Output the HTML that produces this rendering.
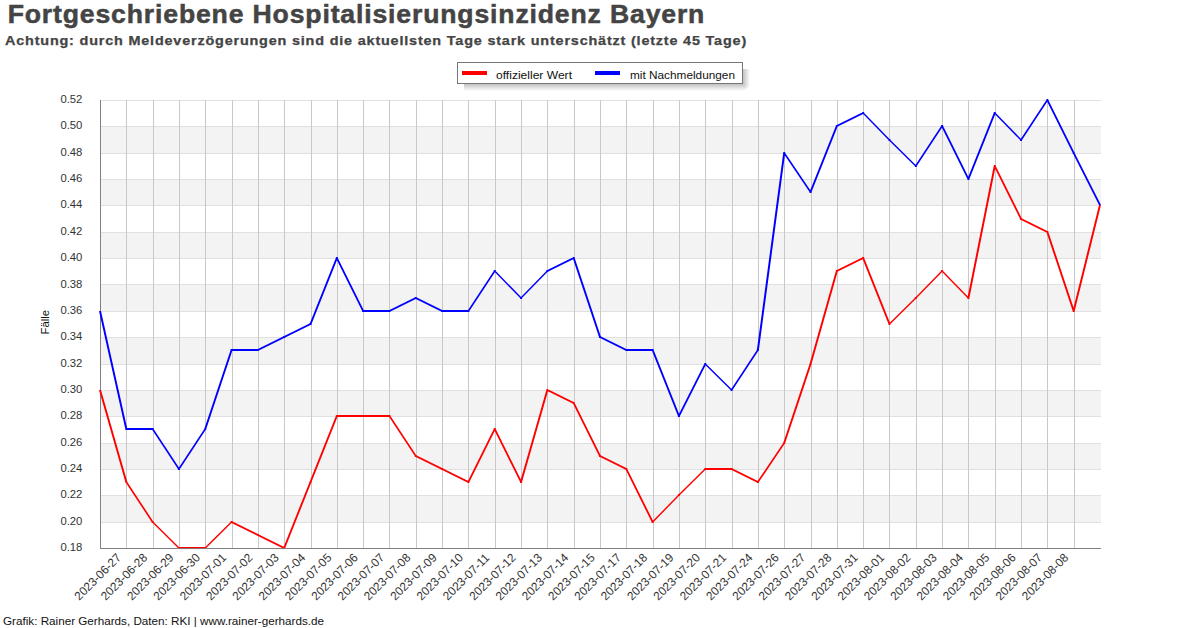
<!DOCTYPE html>
<html><head><meta charset="utf-8"><style>
html,body{margin:0;padding:0;background:#fff;width:1200px;height:628px;overflow:hidden}
svg{display:block;font-family:"Liberation Sans", sans-serif}
</style></head><body>
<svg width="1200" height="628" viewBox="0 0 1200 628">
<rect width="1200" height="628" fill="#fff"/>
<rect x="101" y="126" width="1000" height="27" fill="#f3f3f3"/>
<rect x="101" y="179" width="1000" height="26" fill="#f3f3f3"/>
<rect x="101" y="232" width="1000" height="26" fill="#f3f3f3"/>
<rect x="101" y="284" width="1000" height="27" fill="#f3f3f3"/>
<rect x="101" y="337" width="1000" height="27" fill="#f3f3f3"/>
<rect x="101" y="390" width="1000" height="26" fill="#f3f3f3"/>
<rect x="101" y="443" width="1000" height="26" fill="#f3f3f3"/>
<rect x="101" y="495" width="1000" height="27" fill="#f3f3f3"/>
<line x1="101" y1="100.5" x2="1101" y2="100.5" stroke="#e0e0e0" stroke-width="1"/>
<line x1="101" y1="126.5" x2="1101" y2="126.5" stroke="#e0e0e0" stroke-width="1"/>
<line x1="101" y1="153.5" x2="1101" y2="153.5" stroke="#e0e0e0" stroke-width="1"/>
<line x1="101" y1="179.5" x2="1101" y2="179.5" stroke="#e0e0e0" stroke-width="1"/>
<line x1="101" y1="205.5" x2="1101" y2="205.5" stroke="#e0e0e0" stroke-width="1"/>
<line x1="101" y1="232.5" x2="1101" y2="232.5" stroke="#e0e0e0" stroke-width="1"/>
<line x1="101" y1="258.5" x2="1101" y2="258.5" stroke="#e0e0e0" stroke-width="1"/>
<line x1="101" y1="284.5" x2="1101" y2="284.5" stroke="#e0e0e0" stroke-width="1"/>
<line x1="101" y1="311.5" x2="1101" y2="311.5" stroke="#e0e0e0" stroke-width="1"/>
<line x1="101" y1="337.5" x2="1101" y2="337.5" stroke="#e0e0e0" stroke-width="1"/>
<line x1="101" y1="364.5" x2="1101" y2="364.5" stroke="#e0e0e0" stroke-width="1"/>
<line x1="101" y1="390.5" x2="1101" y2="390.5" stroke="#e0e0e0" stroke-width="1"/>
<line x1="101" y1="416.5" x2="1101" y2="416.5" stroke="#e0e0e0" stroke-width="1"/>
<line x1="101" y1="443.5" x2="1101" y2="443.5" stroke="#e0e0e0" stroke-width="1"/>
<line x1="101" y1="469.5" x2="1101" y2="469.5" stroke="#e0e0e0" stroke-width="1"/>
<line x1="101" y1="495.5" x2="1101" y2="495.5" stroke="#e0e0e0" stroke-width="1"/>
<line x1="101" y1="522.5" x2="1101" y2="522.5" stroke="#e0e0e0" stroke-width="1"/>
<line x1="126.5" y1="100" x2="126.5" y2="548" stroke="#c8c8c8" stroke-width="1"/>
<line x1="153.5" y1="100" x2="153.5" y2="548" stroke="#c8c8c8" stroke-width="1"/>
<line x1="179.5" y1="100" x2="179.5" y2="548" stroke="#c8c8c8" stroke-width="1"/>
<line x1="205.5" y1="100" x2="205.5" y2="548" stroke="#c8c8c8" stroke-width="1"/>
<line x1="232.5" y1="100" x2="232.5" y2="548" stroke="#c8c8c8" stroke-width="1"/>
<line x1="258.5" y1="100" x2="258.5" y2="548" stroke="#c8c8c8" stroke-width="1"/>
<line x1="284.5" y1="100" x2="284.5" y2="548" stroke="#c8c8c8" stroke-width="1"/>
<line x1="311.5" y1="100" x2="311.5" y2="548" stroke="#c8c8c8" stroke-width="1"/>
<line x1="337.5" y1="100" x2="337.5" y2="548" stroke="#c8c8c8" stroke-width="1"/>
<line x1="363.5" y1="100" x2="363.5" y2="548" stroke="#c8c8c8" stroke-width="1"/>
<line x1="389.5" y1="100" x2="389.5" y2="548" stroke="#c8c8c8" stroke-width="1"/>
<line x1="416.5" y1="100" x2="416.5" y2="548" stroke="#c8c8c8" stroke-width="1"/>
<line x1="442.5" y1="100" x2="442.5" y2="548" stroke="#c8c8c8" stroke-width="1"/>
<line x1="468.5" y1="100" x2="468.5" y2="548" stroke="#c8c8c8" stroke-width="1"/>
<line x1="495.5" y1="100" x2="495.5" y2="548" stroke="#c8c8c8" stroke-width="1"/>
<line x1="521.5" y1="100" x2="521.5" y2="548" stroke="#c8c8c8" stroke-width="1"/>
<line x1="547.5" y1="100" x2="547.5" y2="548" stroke="#c8c8c8" stroke-width="1"/>
<line x1="574.5" y1="100" x2="574.5" y2="548" stroke="#c8c8c8" stroke-width="1"/>
<line x1="600.5" y1="100" x2="600.5" y2="548" stroke="#c8c8c8" stroke-width="1"/>
<line x1="626.5" y1="100" x2="626.5" y2="548" stroke="#c8c8c8" stroke-width="1"/>
<line x1="653.5" y1="100" x2="653.5" y2="548" stroke="#c8c8c8" stroke-width="1"/>
<line x1="679.5" y1="100" x2="679.5" y2="548" stroke="#c8c8c8" stroke-width="1"/>
<line x1="705.5" y1="100" x2="705.5" y2="548" stroke="#c8c8c8" stroke-width="1"/>
<line x1="732.5" y1="100" x2="732.5" y2="548" stroke="#c8c8c8" stroke-width="1"/>
<line x1="758.5" y1="100" x2="758.5" y2="548" stroke="#c8c8c8" stroke-width="1"/>
<line x1="784.5" y1="100" x2="784.5" y2="548" stroke="#c8c8c8" stroke-width="1"/>
<line x1="811.5" y1="100" x2="811.5" y2="548" stroke="#c8c8c8" stroke-width="1"/>
<line x1="837.5" y1="100" x2="837.5" y2="548" stroke="#c8c8c8" stroke-width="1"/>
<line x1="863.5" y1="100" x2="863.5" y2="548" stroke="#c8c8c8" stroke-width="1"/>
<line x1="889.5" y1="100" x2="889.5" y2="548" stroke="#c8c8c8" stroke-width="1"/>
<line x1="916.5" y1="100" x2="916.5" y2="548" stroke="#c8c8c8" stroke-width="1"/>
<line x1="942.5" y1="100" x2="942.5" y2="548" stroke="#c8c8c8" stroke-width="1"/>
<line x1="968.5" y1="100" x2="968.5" y2="548" stroke="#c8c8c8" stroke-width="1"/>
<line x1="995.5" y1="100" x2="995.5" y2="548" stroke="#c8c8c8" stroke-width="1"/>
<line x1="1021.5" y1="100" x2="1021.5" y2="548" stroke="#c8c8c8" stroke-width="1"/>
<line x1="1047.5" y1="100" x2="1047.5" y2="548" stroke="#c8c8c8" stroke-width="1"/>
<line x1="1074.5" y1="100" x2="1074.5" y2="548" stroke="#c8c8c8" stroke-width="1"/>
<path d="M100.5 100 V548.5 H1101" stroke="#808080" stroke-width="1" fill="none"/>
<text x="82.4" y="103.0" text-anchor="end" font-size="11" fill="#333" textLength="22" lengthAdjust="spacingAndGlyphs">0.52</text>
<text x="82.4" y="129.4" text-anchor="end" font-size="11" fill="#333" textLength="22" lengthAdjust="spacingAndGlyphs">0.50</text>
<text x="82.4" y="155.7" text-anchor="end" font-size="11" fill="#333" textLength="22" lengthAdjust="spacingAndGlyphs">0.48</text>
<text x="82.4" y="182.1" text-anchor="end" font-size="11" fill="#333" textLength="22" lengthAdjust="spacingAndGlyphs">0.46</text>
<text x="82.4" y="208.4" text-anchor="end" font-size="11" fill="#333" textLength="22" lengthAdjust="spacingAndGlyphs">0.44</text>
<text x="82.4" y="234.8" text-anchor="end" font-size="11" fill="#333" textLength="22" lengthAdjust="spacingAndGlyphs">0.42</text>
<text x="82.4" y="261.1" text-anchor="end" font-size="11" fill="#333" textLength="22" lengthAdjust="spacingAndGlyphs">0.40</text>
<text x="82.4" y="287.5" text-anchor="end" font-size="11" fill="#333" textLength="22" lengthAdjust="spacingAndGlyphs">0.38</text>
<text x="82.4" y="313.8" text-anchor="end" font-size="11" fill="#333" textLength="22" lengthAdjust="spacingAndGlyphs">0.36</text>
<text x="82.4" y="340.2" text-anchor="end" font-size="11" fill="#333" textLength="22" lengthAdjust="spacingAndGlyphs">0.34</text>
<text x="82.4" y="366.5" text-anchor="end" font-size="11" fill="#333" textLength="22" lengthAdjust="spacingAndGlyphs">0.32</text>
<text x="82.4" y="392.9" text-anchor="end" font-size="11" fill="#333" textLength="22" lengthAdjust="spacingAndGlyphs">0.30</text>
<text x="82.4" y="419.2" text-anchor="end" font-size="11" fill="#333" textLength="22" lengthAdjust="spacingAndGlyphs">0.28</text>
<text x="82.4" y="445.6" text-anchor="end" font-size="11" fill="#333" textLength="22" lengthAdjust="spacingAndGlyphs">0.26</text>
<text x="82.4" y="471.9" text-anchor="end" font-size="11" fill="#333" textLength="22" lengthAdjust="spacingAndGlyphs">0.24</text>
<text x="82.4" y="498.3" text-anchor="end" font-size="11" fill="#333" textLength="22" lengthAdjust="spacingAndGlyphs">0.22</text>
<text x="82.4" y="524.6" text-anchor="end" font-size="11" fill="#333" textLength="22" lengthAdjust="spacingAndGlyphs">0.20</text>
<text x="82.4" y="551.0" text-anchor="end" font-size="11" fill="#333" textLength="22" lengthAdjust="spacingAndGlyphs">0.18</text>
<text transform="translate(121.8,558.5) rotate(-45)" text-anchor="end" font-size="12" fill="#333" textLength="60" lengthAdjust="spacingAndGlyphs">2023-06-27</text>
<text transform="translate(148.1,558.5) rotate(-45)" text-anchor="end" font-size="12" fill="#333" textLength="60" lengthAdjust="spacingAndGlyphs">2023-06-28</text>
<text transform="translate(174.4,558.5) rotate(-45)" text-anchor="end" font-size="12" fill="#333" textLength="60" lengthAdjust="spacingAndGlyphs">2023-06-29</text>
<text transform="translate(200.8,558.5) rotate(-45)" text-anchor="end" font-size="12" fill="#333" textLength="60" lengthAdjust="spacingAndGlyphs">2023-06-30</text>
<text transform="translate(227.1,558.5) rotate(-45)" text-anchor="end" font-size="12" fill="#333" textLength="60" lengthAdjust="spacingAndGlyphs">2023-07-01</text>
<text transform="translate(253.4,558.5) rotate(-45)" text-anchor="end" font-size="12" fill="#333" textLength="60" lengthAdjust="spacingAndGlyphs">2023-07-02</text>
<text transform="translate(279.7,558.5) rotate(-45)" text-anchor="end" font-size="12" fill="#333" textLength="60" lengthAdjust="spacingAndGlyphs">2023-07-03</text>
<text transform="translate(306.0,558.5) rotate(-45)" text-anchor="end" font-size="12" fill="#333" textLength="60" lengthAdjust="spacingAndGlyphs">2023-07-04</text>
<text transform="translate(332.3,558.5) rotate(-45)" text-anchor="end" font-size="12" fill="#333" textLength="60" lengthAdjust="spacingAndGlyphs">2023-07-05</text>
<text transform="translate(358.7,558.5) rotate(-45)" text-anchor="end" font-size="12" fill="#333" textLength="60" lengthAdjust="spacingAndGlyphs">2023-07-06</text>
<text transform="translate(385.0,558.5) rotate(-45)" text-anchor="end" font-size="12" fill="#333" textLength="60" lengthAdjust="spacingAndGlyphs">2023-07-07</text>
<text transform="translate(411.3,558.5) rotate(-45)" text-anchor="end" font-size="12" fill="#333" textLength="60" lengthAdjust="spacingAndGlyphs">2023-07-08</text>
<text transform="translate(437.6,558.5) rotate(-45)" text-anchor="end" font-size="12" fill="#333" textLength="60" lengthAdjust="spacingAndGlyphs">2023-07-09</text>
<text transform="translate(463.9,558.5) rotate(-45)" text-anchor="end" font-size="12" fill="#333" textLength="60" lengthAdjust="spacingAndGlyphs">2023-07-10</text>
<text transform="translate(490.2,558.5) rotate(-45)" text-anchor="end" font-size="12" fill="#333" textLength="60" lengthAdjust="spacingAndGlyphs">2023-07-11</text>
<text transform="translate(516.6,558.5) rotate(-45)" text-anchor="end" font-size="12" fill="#333" textLength="60" lengthAdjust="spacingAndGlyphs">2023-07-12</text>
<text transform="translate(542.9,558.5) rotate(-45)" text-anchor="end" font-size="12" fill="#333" textLength="60" lengthAdjust="spacingAndGlyphs">2023-07-13</text>
<text transform="translate(569.2,558.5) rotate(-45)" text-anchor="end" font-size="12" fill="#333" textLength="60" lengthAdjust="spacingAndGlyphs">2023-07-14</text>
<text transform="translate(595.5,558.5) rotate(-45)" text-anchor="end" font-size="12" fill="#333" textLength="60" lengthAdjust="spacingAndGlyphs">2023-07-15</text>
<text transform="translate(621.8,558.5) rotate(-45)" text-anchor="end" font-size="12" fill="#333" textLength="60" lengthAdjust="spacingAndGlyphs">2023-07-17</text>
<text transform="translate(648.1,558.5) rotate(-45)" text-anchor="end" font-size="12" fill="#333" textLength="60" lengthAdjust="spacingAndGlyphs">2023-07-18</text>
<text transform="translate(674.4,558.5) rotate(-45)" text-anchor="end" font-size="12" fill="#333" textLength="60" lengthAdjust="spacingAndGlyphs">2023-07-19</text>
<text transform="translate(700.8,558.5) rotate(-45)" text-anchor="end" font-size="12" fill="#333" textLength="60" lengthAdjust="spacingAndGlyphs">2023-07-20</text>
<text transform="translate(727.1,558.5) rotate(-45)" text-anchor="end" font-size="12" fill="#333" textLength="60" lengthAdjust="spacingAndGlyphs">2023-07-21</text>
<text transform="translate(753.4,558.5) rotate(-45)" text-anchor="end" font-size="12" fill="#333" textLength="60" lengthAdjust="spacingAndGlyphs">2023-07-24</text>
<text transform="translate(779.7,558.5) rotate(-45)" text-anchor="end" font-size="12" fill="#333" textLength="60" lengthAdjust="spacingAndGlyphs">2023-07-26</text>
<text transform="translate(806.0,558.5) rotate(-45)" text-anchor="end" font-size="12" fill="#333" textLength="60" lengthAdjust="spacingAndGlyphs">2023-07-27</text>
<text transform="translate(832.3,558.5) rotate(-45)" text-anchor="end" font-size="12" fill="#333" textLength="60" lengthAdjust="spacingAndGlyphs">2023-07-28</text>
<text transform="translate(858.7,558.5) rotate(-45)" text-anchor="end" font-size="12" fill="#333" textLength="60" lengthAdjust="spacingAndGlyphs">2023-07-31</text>
<text transform="translate(885.0,558.5) rotate(-45)" text-anchor="end" font-size="12" fill="#333" textLength="60" lengthAdjust="spacingAndGlyphs">2023-08-01</text>
<text transform="translate(911.3,558.5) rotate(-45)" text-anchor="end" font-size="12" fill="#333" textLength="60" lengthAdjust="spacingAndGlyphs">2023-08-02</text>
<text transform="translate(937.6,558.5) rotate(-45)" text-anchor="end" font-size="12" fill="#333" textLength="60" lengthAdjust="spacingAndGlyphs">2023-08-03</text>
<text transform="translate(963.9,558.5) rotate(-45)" text-anchor="end" font-size="12" fill="#333" textLength="60" lengthAdjust="spacingAndGlyphs">2023-08-04</text>
<text transform="translate(990.2,558.5) rotate(-45)" text-anchor="end" font-size="12" fill="#333" textLength="60" lengthAdjust="spacingAndGlyphs">2023-08-05</text>
<text transform="translate(1016.6,558.5) rotate(-45)" text-anchor="end" font-size="12" fill="#333" textLength="60" lengthAdjust="spacingAndGlyphs">2023-08-06</text>
<text transform="translate(1042.9,558.5) rotate(-45)" text-anchor="end" font-size="12" fill="#333" textLength="60" lengthAdjust="spacingAndGlyphs">2023-08-07</text>
<text transform="translate(1069.2,558.5) rotate(-45)" text-anchor="end" font-size="12" fill="#333" textLength="60" lengthAdjust="spacingAndGlyphs">2023-08-08</text>
<path d="M101.00,390.00 L127.32,482.00 L125.32,482.00 L99.00,390.00Z M127.32,482.00 L153.63,522.00 L151.63,522.00 L125.32,482.00Z M152.63,521.00 L178.95,547.00 L178.95,549.00 L152.63,523.00Z M178.95,547.00 L205.26,547.00 L205.26,549.00 L178.95,549.00Z M205.26,547.00 L231.58,521.00 L231.58,523.00 L205.26,549.00Z M231.58,521.00 L257.89,534.00 L257.89,536.00 L231.58,523.00Z M257.89,534.00 L284.21,547.00 L284.21,549.00 L257.89,536.00Z M283.21,548.00 L309.53,482.00 L311.53,482.00 L285.21,548.00Z M309.53,482.00 L335.84,416.00 L337.84,416.00 L311.53,482.00Z M336.84,415.00 L363.16,415.00 L363.16,417.00 L336.84,417.00Z M363.16,415.00 L389.47,415.00 L389.47,417.00 L363.16,417.00Z M390.47,416.00 L416.79,456.00 L414.79,456.00 L388.47,416.00Z M415.79,455.00 L442.11,468.00 L442.11,470.00 L415.79,457.00Z M442.11,468.00 L468.42,481.00 L468.42,483.00 L442.11,470.00Z M467.42,482.00 L493.74,429.00 L495.74,429.00 L469.42,482.00Z M495.74,429.00 L522.05,482.00 L520.05,482.00 L493.74,429.00Z M520.05,482.00 L546.37,390.00 L548.37,390.00 L522.05,482.00Z M547.37,389.00 L573.68,402.00 L573.68,404.00 L547.37,391.00Z M574.68,403.00 L601.00,456.00 L599.00,456.00 L572.68,403.00Z M600.00,455.00 L626.32,468.00 L626.32,470.00 L600.00,457.00Z M627.32,469.00 L653.63,522.00 L651.63,522.00 L625.32,469.00Z M651.63,522.00 L677.95,495.00 L679.95,495.00 L653.63,522.00Z M678.95,494.00 L705.26,468.00 L705.26,470.00 L678.95,496.00Z M705.26,468.00 L731.58,468.00 L731.58,470.00 L705.26,470.00Z M731.58,468.00 L757.89,481.00 L757.89,483.00 L731.58,470.00Z M756.89,482.00 L783.21,443.00 L785.21,443.00 L758.89,482.00Z M783.21,443.00 L809.53,364.00 L811.53,364.00 L785.21,443.00Z M809.53,364.00 L835.84,271.00 L837.84,271.00 L811.53,364.00Z M836.84,270.00 L863.16,257.00 L863.16,259.00 L836.84,272.00Z M864.16,258.00 L890.47,324.00 L888.47,324.00 L862.16,258.00Z M889.47,323.00 L915.79,297.00 L915.79,299.00 L889.47,325.00Z M914.79,298.00 L941.11,271.00 L943.11,271.00 L916.79,298.00Z M943.11,271.00 L969.42,298.00 L967.42,298.00 L941.11,271.00Z M967.42,298.00 L993.74,166.00 L995.74,166.00 L969.42,298.00Z M995.74,166.00 L1022.05,219.00 L1020.05,219.00 L993.74,166.00Z M1021.05,218.00 L1047.37,231.00 L1047.37,233.00 L1021.05,220.00Z M1048.37,232.00 L1074.68,311.00 L1072.68,311.00 L1046.37,232.00Z M1072.68,311.00 L1099.00,205.00 L1101.00,205.00 L1074.68,311.00Z M125.32,481.00 h2.0 v2.0 h-2.0Z M151.63,521.00 h2.0 v2.0 h-2.0Z M177.95,547.00 h2.0 v2.0 h-2.0Z M204.26,547.00 h2.0 v2.0 h-2.0Z M230.58,521.00 h2.0 v2.0 h-2.0Z M256.89,534.00 h2.0 v2.0 h-2.0Z M283.21,547.00 h2.0 v2.0 h-2.0Z M309.53,481.00 h2.0 v2.0 h-2.0Z M335.84,415.00 h2.0 v2.0 h-2.0Z M362.16,415.00 h2.0 v2.0 h-2.0Z M388.47,415.00 h2.0 v2.0 h-2.0Z M414.79,455.00 h2.0 v2.0 h-2.0Z M441.11,468.00 h2.0 v2.0 h-2.0Z M467.42,481.00 h2.0 v2.0 h-2.0Z M493.74,428.00 h2.0 v2.0 h-2.0Z M520.05,481.00 h2.0 v2.0 h-2.0Z M546.37,389.00 h2.0 v2.0 h-2.0Z M572.68,402.00 h2.0 v2.0 h-2.0Z M599.00,455.00 h2.0 v2.0 h-2.0Z M625.32,468.00 h2.0 v2.0 h-2.0Z M651.63,521.00 h2.0 v2.0 h-2.0Z M677.95,494.00 h2.0 v2.0 h-2.0Z M704.26,468.00 h2.0 v2.0 h-2.0Z M730.58,468.00 h2.0 v2.0 h-2.0Z M756.89,481.00 h2.0 v2.0 h-2.0Z M783.21,442.00 h2.0 v2.0 h-2.0Z M809.53,363.00 h2.0 v2.0 h-2.0Z M835.84,270.00 h2.0 v2.0 h-2.0Z M862.16,257.00 h2.0 v2.0 h-2.0Z M888.47,323.00 h2.0 v2.0 h-2.0Z M914.79,297.00 h2.0 v2.0 h-2.0Z M941.11,270.00 h2.0 v2.0 h-2.0Z M967.42,297.00 h2.0 v2.0 h-2.0Z M993.74,165.00 h2.0 v2.0 h-2.0Z M1020.05,218.00 h2.0 v2.0 h-2.0Z M1046.37,231.00 h2.0 v2.0 h-2.0Z M1072.68,310.00 h2.0 v2.0 h-2.0Z" fill="#ff0000"/>
<path d="M101.00,311.00 L127.32,429.00 L125.32,429.00 L99.00,311.00Z M126.32,428.00 L152.63,428.00 L152.63,430.00 L126.32,430.00Z M153.63,429.00 L179.95,469.00 L177.95,469.00 L151.63,429.00Z M177.95,469.00 L204.26,429.00 L206.26,429.00 L179.95,469.00Z M204.26,429.00 L230.58,350.00 L232.58,350.00 L206.26,429.00Z M231.58,349.00 L257.89,349.00 L257.89,351.00 L231.58,351.00Z M257.89,349.00 L284.21,336.00 L284.21,338.00 L257.89,351.00Z M284.21,336.00 L310.53,323.00 L310.53,325.00 L284.21,338.00Z M309.53,324.00 L335.84,258.00 L337.84,258.00 L311.53,324.00Z M337.84,258.00 L364.16,311.00 L362.16,311.00 L335.84,258.00Z M363.16,310.00 L389.47,310.00 L389.47,312.00 L363.16,312.00Z M389.47,310.00 L415.79,297.00 L415.79,299.00 L389.47,312.00Z M415.79,297.00 L442.11,310.00 L442.11,312.00 L415.79,299.00Z M442.11,310.00 L468.42,310.00 L468.42,312.00 L442.11,312.00Z M467.42,311.00 L493.74,271.00 L495.74,271.00 L469.42,311.00Z M495.74,271.00 L522.05,298.00 L520.05,298.00 L493.74,271.00Z M520.05,298.00 L546.37,271.00 L548.37,271.00 L522.05,298.00Z M547.37,270.00 L573.68,257.00 L573.68,259.00 L547.37,272.00Z M574.68,258.00 L601.00,337.00 L599.00,337.00 L572.68,258.00Z M600.00,336.00 L626.32,349.00 L626.32,351.00 L600.00,338.00Z M626.32,349.00 L652.63,349.00 L652.63,351.00 L626.32,351.00Z M653.63,350.00 L679.95,416.00 L677.95,416.00 L651.63,350.00Z M677.95,416.00 L704.26,364.00 L706.26,364.00 L679.95,416.00Z M705.26,363.00 L731.58,389.00 L731.58,391.00 L705.26,365.00Z M730.58,390.00 L756.89,350.00 L758.89,350.00 L732.58,390.00Z M756.89,350.00 L783.21,153.00 L785.21,153.00 L758.89,350.00Z M785.21,153.00 L811.53,192.00 L809.53,192.00 L783.21,153.00Z M809.53,192.00 L835.84,126.00 L837.84,126.00 L811.53,192.00Z M836.84,125.00 L863.16,112.00 L863.16,114.00 L836.84,127.00Z M864.16,113.00 L890.47,140.00 L888.47,140.00 L862.16,113.00Z M889.47,139.00 L915.79,165.00 L915.79,167.00 L889.47,141.00Z M914.79,166.00 L941.11,126.00 L943.11,126.00 L916.79,166.00Z M943.11,126.00 L969.42,179.00 L967.42,179.00 L941.11,126.00Z M967.42,179.00 L993.74,113.00 L995.74,113.00 L969.42,179.00Z M995.74,113.00 L1022.05,140.00 L1020.05,140.00 L993.74,113.00Z M1020.05,140.00 L1046.37,100.00 L1048.37,100.00 L1022.05,140.00Z M1048.37,100.00 L1074.68,153.00 L1072.68,153.00 L1046.37,100.00Z M1074.68,153.00 L1101.00,205.00 L1099.00,205.00 L1072.68,153.00Z M125.32,428.00 h2.0 v2.0 h-2.0Z M151.63,428.00 h2.0 v2.0 h-2.0Z M177.95,468.00 h2.0 v2.0 h-2.0Z M204.26,428.00 h2.0 v2.0 h-2.0Z M230.58,349.00 h2.0 v2.0 h-2.0Z M256.89,349.00 h2.0 v2.0 h-2.0Z M283.21,336.00 h2.0 v2.0 h-2.0Z M309.53,323.00 h2.0 v2.0 h-2.0Z M335.84,257.00 h2.0 v2.0 h-2.0Z M362.16,310.00 h2.0 v2.0 h-2.0Z M388.47,310.00 h2.0 v2.0 h-2.0Z M414.79,297.00 h2.0 v2.0 h-2.0Z M441.11,310.00 h2.0 v2.0 h-2.0Z M467.42,310.00 h2.0 v2.0 h-2.0Z M493.74,270.00 h2.0 v2.0 h-2.0Z M520.05,297.00 h2.0 v2.0 h-2.0Z M546.37,270.00 h2.0 v2.0 h-2.0Z M572.68,257.00 h2.0 v2.0 h-2.0Z M599.00,336.00 h2.0 v2.0 h-2.0Z M625.32,349.00 h2.0 v2.0 h-2.0Z M651.63,349.00 h2.0 v2.0 h-2.0Z M677.95,415.00 h2.0 v2.0 h-2.0Z M704.26,363.00 h2.0 v2.0 h-2.0Z M730.58,389.00 h2.0 v2.0 h-2.0Z M756.89,349.00 h2.0 v2.0 h-2.0Z M783.21,152.00 h2.0 v2.0 h-2.0Z M809.53,191.00 h2.0 v2.0 h-2.0Z M835.84,125.00 h2.0 v2.0 h-2.0Z M862.16,112.00 h2.0 v2.0 h-2.0Z M888.47,139.00 h2.0 v2.0 h-2.0Z M914.79,165.00 h2.0 v2.0 h-2.0Z M941.11,125.00 h2.0 v2.0 h-2.0Z M967.42,178.00 h2.0 v2.0 h-2.0Z M993.74,112.00 h2.0 v2.0 h-2.0Z M1020.05,139.00 h2.0 v2.0 h-2.0Z M1046.37,99.00 h2.0 v2.0 h-2.0Z M1072.68,152.00 h2.0 v2.0 h-2.0Z" fill="#0000ff"/>
<path d="M100 548.5 H1101" stroke="#808080" stroke-width="1" fill="none" opacity="0.85"/>
<defs><linearGradient id="gv" x1="0" y1="0" x2="0" y2="1"><stop offset="0" stop-color="#c2c2c2"/><stop offset="1" stop-color="#fff"/></linearGradient><linearGradient id="gh" x1="0" y1="0" x2="1" y2="0"><stop offset="0" stop-color="#c2c2c2"/><stop offset="1" stop-color="#fff"/></linearGradient><radialGradient id="gc" cx="0" cy="0" r="1"><stop offset="0" stop-color="#c2c2c2"/><stop offset="1" stop-color="#fff"/></radialGradient></defs>
<rect x="464" y="84" width="279" height="7" fill="url(#gv)"/>
<rect x="743" y="69" width="7" height="15" fill="url(#gh)"/>
<rect x="743" y="84" width="7" height="7" fill="url(#gc)"/>
<rect x="457.5" y="62.5" width="285" height="21" fill="#fff" stroke="#777" stroke-width="1"/>
<rect x="462" y="71" width="25" height="4" fill="#ff0000"/>
<rect x="595" y="71" width="25" height="4" fill="#0000ff"/>
<text x="496" y="78.5" font-size="11" fill="#111" textLength="76" lengthAdjust="spacingAndGlyphs">offizieller Wert</text>
<text x="630" y="78.5" font-size="11" fill="#111" textLength="105" lengthAdjust="spacingAndGlyphs">mit Nachmeldungen</text>
<text transform="translate(49,334.5) rotate(-90)" font-size="11" fill="#111" textLength="24.5" lengthAdjust="spacingAndGlyphs">Fälle</text>
<text x="7.7" y="22.5" font-size="25" font-weight="bold" fill="#444" stroke="#444" stroke-width="0.5" letter-spacing="0.8" textLength="697.5" lengthAdjust="spacingAndGlyphs">Fortgeschriebene Hospitalisierungsinzidenz Bayern</text>
<text x="5" y="44.8" font-size="12.3" font-weight="bold" fill="#444" stroke="#444" stroke-width="0.25" letter-spacing="0.7" textLength="742" lengthAdjust="spacingAndGlyphs">Achtung: durch Meldeverzögerungen sind die aktuellsten Tage stark unterschätzt (letzte 45 Tage)</text>
<text x="3" y="624.8" font-size="11" fill="#111" textLength="321" lengthAdjust="spacingAndGlyphs">Grafik: Rainer Gerhards, Daten: RKI | www.rainer-gerhards.de</text>
</svg>
</body></html>
